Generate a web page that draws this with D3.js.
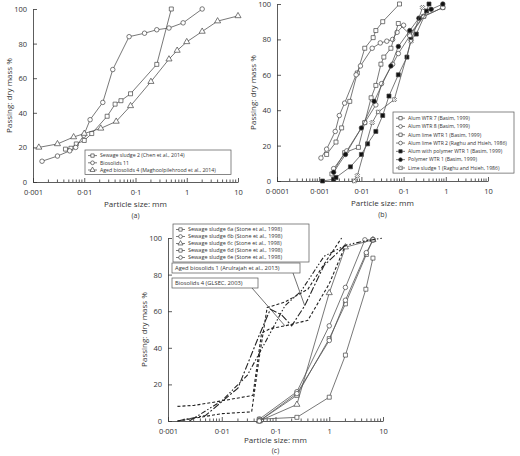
<!DOCTYPE html>
<html><head><meta charset="utf-8">
<script src="https://cdn.jsdelivr.net/npm/d3@7/dist/d3.min.js"></script>
<style>body{margin:0;background:#fff}text{font-family:"Open Sans",sans-serif;fill:#333}</style>
</head><body><svg id="c" width="520" height="456"></svg>
<script>
const yTicks=[0,20,40,60,80,100];
// Panel (a)
const aNames=["Sewage sludge 2 (Chen et al., 2014)","Biosolids 11","Aged biosolids 4 (Maghoolpilehrood et al., 2014)"];
const aSludge2=[[0.0043,19],[0.0055,19.5],[0.007,22],[0.01,24],[0.014,28],[0.028,38],[0.04,45],[0.052,47],[0.08,51],[0.26,68],[0.5,100]];
const aBio11=[[0.0015,12],[0.003,15],[0.0052,18],[0.0068,20],[0.0098,27],[0.013,36],[0.023,46],[0.036,65],[0.075,84],[0.15,86],[0.26,88],[0.45,89],[0.85,92],[2,100]];
const aAged4=[[0.0013,20],[0.003,22],[0.0062,26],[0.01,28],[0.021,31],[0.042,35],[0.08,44],[0.2,58],[0.45,71],[0.65,76],[1,81],[2,87],[4,93],[10,96]];
// Panel (b)
const bNames=["Alum WTR 7 (Basim, 1999)","Alum WTR 8 (Basim, 1999)","Alum lime WTR 1 (Basim, 1999)","Alum lime WTR 2 (Raghu and Hsieh, 1986)","Alum with polymer WTR 1 (Basim, 1999)","Polymer WTR 1 (Basim, 1999)","Lime sludge 1 (Raghu and Hsieh, 1986)"];
const bWTR7=[[0.0015,15],[0.0025,22],[0.0034,30],[0.0053,45],[0.008,61],[0.012,75],[0.019,81],[0.022,85],[0.032,90],[0.08,100]];
const bWTR8=[[0.0011,13],[0.0015,18],[0.0024,28],[0.003,37],[0.004,44],[0.0075,60],[0.0095,65],[0.018,75],[0.028,78],[0.04,79],[0.055,80],[0.07,84],[0.1,88]];
const bLime1=[[0.002,4],[0.004,16],[0.0085,19],[0.012,33],[0.017,47],[0.022,54],[0.029,66],[0.034,70],[0.05,75],[0.075,89],[0.14,83],[0.3,93],[0.85,98]];
const bLime2=[[0.0022,7],[0.0045,17],[0.012,33],[0.022,43],[0.03,55],[0.055,66],[0.075,72],[0.14,82],[0.3,93],[0.85,98]];
const bPoly=[[0.0012,0],[0.0022,1],[0.0025,2],[0.0055,8],[0.01,15],[0.014,21],[0.022,28],[0.032,37],[0.045,48],[0.075,60],[0.12,70],[0.15,80],[0.2,83],[0.35,96],[0.4,100]];
const bPolymer=[[0.0022,5],[0.0042,15],[0.01,30],[0.02,45],[0.05,65],[0.075,76],[0.14,85],[0.23,92],[0.45,97],[0.85,100]];
const bLimeSl=[[0.0068,0],[0.008,3],[0.018,33],[0.025,39],[0.06,46],[0.15,79],[0.28,98]];
// Panel (c)
const cNames=["Sewage sludge 6a (Stone et al., 1998)","Sewage sludge 6b (Stone et al., 1998)","Sewage sludge 6c (Stone et al., 1998)","Sewage sludge 6d (Stone et al., 1998)","Sewage sludge 6e (Stone et al., 1998)"];
const c6a=[[0.05,1],[0.25,2],[1,13],[2,36],[4.8,72],[6.5,89]];
const c6b=[[0.05,1],[0.25,16],[1,52],[2,73],[4.6,99],[6.5,99]];
const c6c=[[0.05,0],[0.25,9],[1,70],[2,95],[6.5,99]];
const c6d=[[0.05,0],[0.25,14],[1,45],[2,64],[4.9,91],[6.5,99]];
const c6e=[[0.05,0],[0.25,15],[1,44],[2,66],[4.9,92],[6.5,99]];
const cDash1=[[0.0015,8],[0.003,8.5],[0.01,11],[0.038,14],[0.055,48],[0.08,50.5],[0.15,52],[0.4,55],[1,75],[2,96]];
const cDash2=[[0.0015,0],[0.01,4],[0.036,5],[0.05,35],[0.07,62],[0.15,65],[0.4,72],[1,90],[1.7,100]];
const cDashDot=[[0.0015,0],[0.005,3],[0.02,18],[0.05,47],[0.08,61],[0.13,58],[0.2,52],[0.35,63],[0.8,85],[2,96]];
const cDashDotDot=[[0.0025,0],[0.01,11],[0.03,25],[0.07,45],[0.15,63],[0.3,71],[0.8,90],[2,96],[4,98],[10,100]];

const svg=d3.select("#c");
const fmt=d=>String(d).replace(".","·");
const sym={sq:d3.symbolSquare,ci:d3.symbolCircle,tr:d3.symbolTriangle,x:d3.symbolCross};

function panel(o){
  const x=d3.scaleLog().domain(o.dom).range([o.x0,o.x1]);
  const y=d3.scaleLinear().domain([0,100]).range([o.y0,o.y1]);
  const g=svg.append("g");
  const ticks=[];for(let e=Math.log10(o.dom[0]);e<=Math.log10(o.dom[1]);e++)ticks.push(+Math.pow(10,e).toPrecision(1));
  const ax=d3.axisBottom(x).tickValues(ticks).tickFormat(fmt).tickSize(-4).tickSizeOuter(0);
  const gx=g.append("g").attr("transform",`translate(0,${o.y0})`).call(ax);
  const minor=[];ticks.slice(0,-1).forEach(t=>{for(let k=2;k<10;k++)minor.push(t*k)});
  gx.selectAll(".mn").data(minor).join("line").attr("x1",d=>x(d)).attr("x2",d=>x(d)).attr("y1",0).attr("y2",-2.5).attr("stroke","#333").attr("stroke-width",0.6);
  const gy=g.append("g").attr("transform",`translate(${o.x0},0)`).call(d3.axisLeft(y).tickValues(yTicks).tickSize(-4).tickSizeOuter(0));
  [gx,gy].forEach(a=>{a.selectAll("text").style("font-size","7.5px").attr("fill","#333");a.selectAll("path,line").attr("stroke","#333").attr("stroke-width",0.8)});
  gx.selectAll(".tick text").attr("dy","1.3em");
  gy.selectAll(".tick text").attr("dx","-3");
  g.append("text").attr("x",(o.x0+o.x1)/2).attr("y",o.y0+o.l1).attr("text-anchor","middle").style("font-size","8px").text("Particle size: mm");
  g.append("text").attr("x",(o.x0+o.x1)/2).attr("y",o.y0+o.l2).attr("text-anchor","middle").style("font-size","7px").text(o.tag);
  g.append("text").attr("transform",`translate(${o.x0-21},${(o.y0+o.y1)/2}) rotate(-90)`).attr("text-anchor","middle").style("font-size","8px").text("Passing: dry mass %");
  const line=d3.line().x(d=>x(d[0])).y(d=>y(d[1]));
  o.series.forEach(s=>{
    g.append("path").datum(s.d).attr("d",line).attr("fill","none").attr("stroke",s.dash?"#222":"#555").attr("stroke-width",s.dash?1.1:0.8).attr("stroke-dasharray",s.dash||null);
    if(s.m) g.selectAll(null).data(s.d).join("path").attr("transform",d=>`translate(${x(d[0])},${y(d[1])})${s.m==="x"?" rotate(45)":""}`)
      .attr("d",d3.symbol(sym[s.m],s.m==="x"?12:16)).attr("fill",s.f?"#111":"#fff").attr("stroke","#444").attr("stroke-width",0.7);
  });
  return {x,y,g};
}
function legend(g,x,y,w,items,fs,lh){
  g.append("rect").attr("x",x).attr("y",y).attr("width",w).attr("height",items.length*lh+3).attr("fill","#fff").attr("stroke","#555").attr("stroke-width",0.7);
  items.forEach((it,i)=>{const yy=y+2+lh*i+lh/2;
    g.append("line").attr("x1",x+3).attr("x2",x+12).attr("y1",yy).attr("y2",yy).attr("stroke","#444").attr("stroke-width",0.7);
    g.append("path").attr("transform",`translate(${x+7.5},${yy})${it.m==="x"?" rotate(45)":""}`).attr("d",d3.symbol(sym[it.m],11)).attr("fill",it.f?"#111":"#fff").attr("stroke","#444").attr("stroke-width",0.7);
    g.append("text").attr("x",x+15).attr("y",yy+1.8).style("font-size",fs+"px").text(it.n);
  });
}
const A=panel({dom:[0.001,10],x0:33,x1:238,y0:182,y1:9,tag:"(a)",l1:25,l2:36,series:[{d:aSludge2,m:"sq"},{d:aBio11,m:"ci"},{d:aAged4,m:"tr"}]});
legend(A.g,85,150,146,[{n:aNames[0],m:"sq"},{n:aNames[1],m:"ci"},{n:aNames[2],m:"tr"}],5.2,7.2);
const B=panel({dom:[0.0001,10],x0:277,x1:488,y0:181,y1:4,tag:"(b)",l1:25,l2:36,series:[{d:bWTR7,m:"sq"},{d:bWTR8,m:"ci"},{d:bLime1,m:"sq"},{d:bLime2,m:"ci"},{d:bPoly,m:"sq",f:1},{d:bPolymer,m:"ci",f:1},{d:bLimeSl,m:"x"}]});
legend(B.g,393,112,121,bNames.map((n,i)=>({n,m:["sq","ci","sq","ci","sq","ci","x"][i],f:i==4||i==5})),5.1,8.3);
const C=panel({dom:[0.001,10],x0:168,x1:383,y0:421,y1:238,tag:"(c)",l1:22,l2:32,series:[{d:c6a,m:"sq"},{d:c6b,m:"ci"},{d:c6c,m:"tr"},{d:c6d,m:"sq"},{d:c6e,m:"ci"},{d:cDash1,dash:"3,2"},{d:cDash2,dash:"3,2"},{d:cDashDot,dash:"7,2,2,2"},{d:cDashDotDot,dash:"5,2,1.5,2,1.5,2"}]});
legend(C.g,173,224,136,cNames.map((n,i)=>({n,m:["sq","ci","tr","sq","ci"][i]})),5.5,7);
[[172,263,128,"Aged biosolids 1 (Arulrajah et al., 2013)",[293,273],[0.35,63]],[172,278,86,"Biosolids 4 (GLSEC, 2003)",[252,288],[0.15,52]]].forEach(b=>{
  C.g.append("line").attr("x1",b[4][0]).attr("y1",b[4][1]).attr("x2",C.x(b[5][0])).attr("y2",C.y(b[5][1])).attr("stroke","#333").attr("stroke-width",0.7);
  C.g.append("rect").attr("x",b[0]).attr("y",b[1]).attr("width",b[2]).attr("height",10).attr("fill","#fff").attr("stroke","#555").attr("stroke-width",0.7);
  C.g.append("text").attr("x",b[0]+3).attr("y",b[1]+7.3).style("font-size","5.8px").text(b[3]);
});
</script></body></html>
